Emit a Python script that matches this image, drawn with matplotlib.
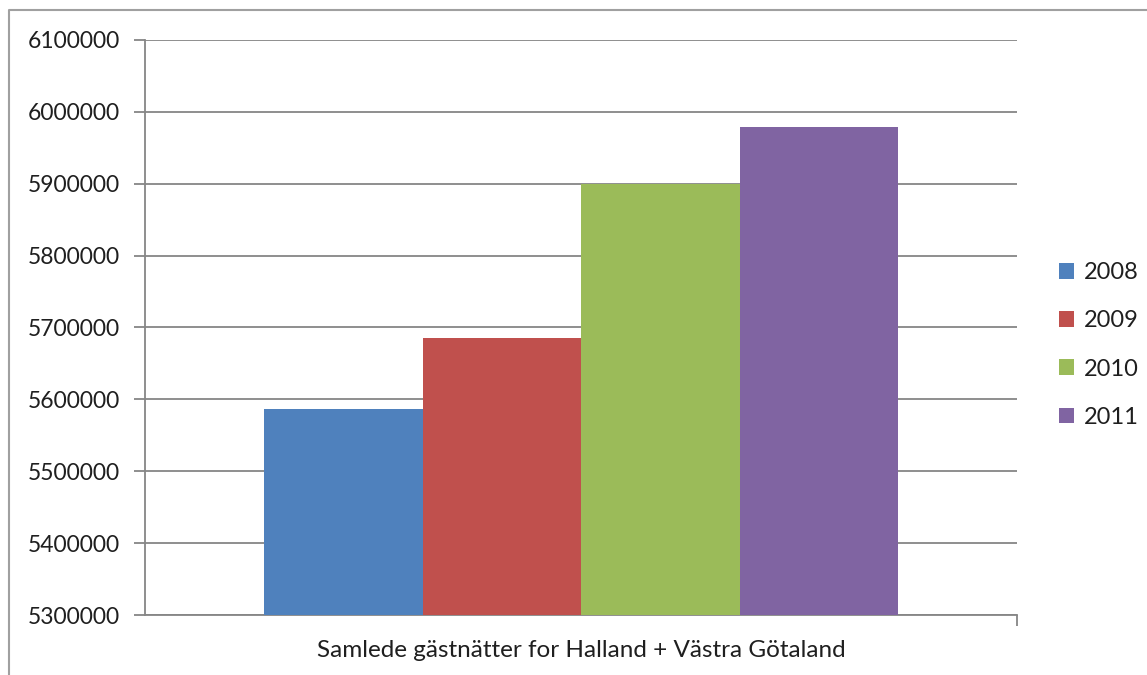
import matplotlib
matplotlib.use("Agg")
import matplotlib.pyplot as plt
from matplotlib.lines import Line2D
from matplotlib.patches import Patch

years = ["2008", "2009", "2010", "2011"]
values = [5587000, 5686000, 5900000, 5979000]
colors = ["#4f81bd", "#c0504d", "#9bbb59", "#8064a2"]
category = "Samlede gästnätter for Halland + Västra Götaland"
yticks = [5300000, 5400000, 5500000, 5600000, 5700000, 5800000, 5900000, 6000000, 6100000]

plt.rcParams['font.family'] = ['Lato', 'DejaVu Sans']
W, H = 1147, 675
fig = plt.figure(figsize=(W / 100, H / 100), dpi=100)
ax = fig.add_axes([145 / W, (H - 615) / H, (1017 - 145) / W, (615 - 40) / H])

w = 634 / 872 / 4
for i, (v, c) in enumerate(zip(values, colors)):
    ax.bar((i - 1.5) * w, v - yticks[0], bottom=yticks[0], width=w, color=c, zorder=3, label=years[i])

ax.set_xlim(-0.5, 0.5)
ax.set_ylim(yticks[0], yticks[-1])
ax.set_yticks(yticks)
ax.set_yticklabels([str(t) for t in yticks])
ax.yaxis.grid(True, color="#868686", linewidth=1.3, zorder=0)
ax.set_axisbelow(True)
ax.set_xticks([0.5])
ax.set_xticklabels([""])
ax.tick_params(axis='y', length=8, width=1.3, color="#868686", pad=10, labelsize=16.5, labelcolor="#1f1f1f")
ax.tick_params(axis='x', length=8, width=1.3, color="#868686", direction='out')
for s in ["top", "right"]:
    ax.spines[s].set_visible(False)
for s in ["left", "bottom"]:
    ax.spines[s].set_color("#868686")
    ax.spines[s].set_linewidth(1.3)
ax.text(0, -0.061, category, transform=ax.get_xaxis_transform(), ha='center', va='center',
        fontsize=17.5, color="#1f1f1f")

handles = [Patch(facecolor=c, edgecolor='none') for c in colors]
fig.legend(handles, years, loc='center left', bbox_to_anchor=(1059 / W, 1 - 345 / H),
           frameon=False, fontsize=17, handlelength=0.65, handleheight=0.65,
           handletextpad=0.4, labelspacing=1.15, labelcolor="#1f1f1f",
           borderpad=0, borderaxespad=0)

fig.add_artist(Line2D([9 / W, 9 / W, 1], [0, 1 - 10 / H, 1 - 10 / H], transform=fig.transFigure,
                      color="#a0a0a0", linewidth=1.5))

fig.savefig("out.png", dpi=100)
